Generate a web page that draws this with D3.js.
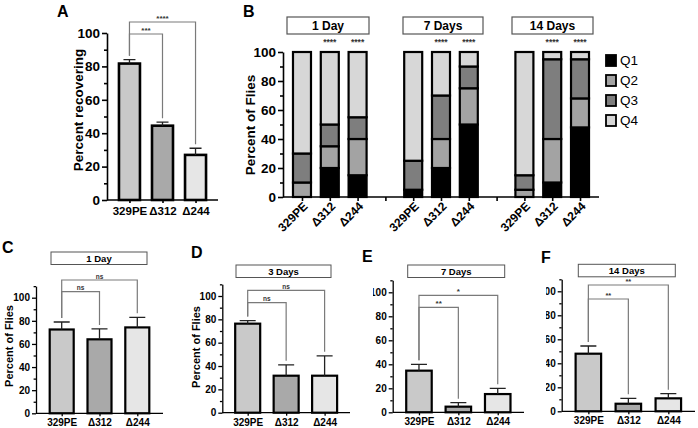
<!DOCTYPE html>
<html><head><meta charset="utf-8">
<script src="https://cdn.jsdelivr.net/npm/d3@7"></script>
<style>
body{margin:0;background:#fff;}
svg{display:block;font-family:"Liberation Sans",Arial,Helvetica,sans-serif;}
</style></head><body>
<svg id="chart" width="698" height="428"></svg>
<script>
// ---------------- data ----------------
const strains = ["329PE", "Δ312", "Δ244"];
const yTicks = [0, 20, 40, 60, 80, 100];

// Panel A
const recoveringMean = [81.7, 44.5, 27.0];
const recoveringSem = [2.3, 2.1, 4.0];
const recoveringSig = [["329PE", "Δ312", "***"], ["329PE", "Δ244", "****"]];

// Panel B (stacked quartiles)
const days = ["1 Day", "7 Days", "14 Days"];
const quartiles = ["Q1", "Q2", "Q3", "Q4"];
const q1 = [0, 20, 15, 5, 20, 50, 0, 10, 48];
const q2 = [10, 15, 25, 0, 20, 25, 5, 30, 20];
const q3 = [20, 15, 15, 20, 30, 15, 10, 55, 27];
const q4 = [70, 50, 45, 75, 30, 10, 85, 5, 5];
const stackSig = ["", "****", "****", "", "****", "****", "", "****", "****"];

// Panels C-F
const day1Mean = [72.5, 64.0, 74.3], day1Sem = [6.5, 9.0, 8.7];
const day1Sig = [["329PE", "Δ312", "ns"], ["329PE", "Δ244", "ns"]];
const day3Mean = [76.3, 31.7, 31.7], day3Sem = [2.6, 9.3, 17.0];
const day3Sig = [["329PE", "Δ312", "ns"], ["329PE", "Δ244", "ns"]];
const day7Mean = [34.7, 4.7, 15.2], day7Sem = [5.3, 3.3, 4.8];
const day7Sig = [["329PE", "Δ312", "**"], ["329PE", "Δ244", "*"]];
const day14Mean = [48.0, 6.3, 10.8], day14Sem = [6.4, 4.5, 3.9];
const day14Sig = [["329PE", "Δ312", "**"], ["329PE", "Δ244", "**"]];

// ---------------- styles ----------------
const strainFill = { "329PE": "#c9c9c9", "Δ312": "#a9a9a9", "Δ244": "#e6e6e6" };
const quartFill = { Q1: "#000000", Q2: "#a3a3a3", Q3: "#7e7e7e", Q4: "#d7d7d7" };
const bracketColor = "#7a7a7a";

const svg = d3.select("#chart");
svg.append("defs").html(
  '<clipPath id="clipE"><rect x="373" y="0" width="400" height="428"/></clipPath>' +
  '<clipPath id="clipF"><rect x="546" y="0" width="400" height="428"/></clipPath>');

function styleAxis(g, w) {
  g.selectAll("path.domain").attr("stroke", "#000").attr("stroke-width", w);
  g.selectAll(".tick line").attr("stroke", "#000").attr("stroke-width", w);
}

function barPanel(o) {
  const g = svg.append("g");
  const yTopPx = o.yBase - (o.yBase - o.y100) * o.yMax / 100;
  const y = d3.scaleLinear().domain([0, o.yMax]).range([o.yBase, yTopPx]);
  const x = d3.scalePoint().domain(strains).range([o.x0, o.x1]).padding(o.pad);
  const data = strains.map((s, i) => ({ s, m: o.mean[i], e: o.sem[i] }));

  // y axis (optionally clipped wrapper, as in the composed figure)
  const yWrap = g.append("g");
  if (o.clip) yWrap.attr("clip-path", `url(#${o.clip})`);
  const minor = d3.range(10, o.yMax + 0.1, 20).filter(v => v <= o.yMax);
  const ya = yWrap.append("g").attr("transform", `translate(${o.x0},0)`)
    .call(d3.axisLeft(y).tickValues(yTicks).tickSize(o.tick).tickSizeOuter(0).tickPadding(2));
  ya.selectAll("text").attr("font-size", o.tickFont).attr("font-weight", "bold").attr("fill", "#000");
  styleAxis(ya, o.axisW);
  const ym = yWrap.append("g").attr("transform", `translate(${o.x0},0)`)
    .call(d3.axisLeft(y).tickValues(minor).tickSize(o.tick * 0.6).tickFormat(""));
  ym.select("path.domain").remove();
  styleAxis(ym, o.axisW);

  // bars
  g.selectAll("rect.bar").data(data).join("rect").attr("class", "bar")
    .attr("x", d => x(d.s) - o.barW / 2).attr("width", o.barW)
    .attr("y", d => y(d.m)).attr("height", d => y(0) - y(d.m))
    .attr("fill", d => strainFill[d.s]).attr("stroke", "#000").attr("stroke-width", o.barStroke);
  // error bars
  g.selectAll("path.err").data(data).join("path").attr("class", "err")
    .attr("d", d => `M${x(d.s)},${y(d.m)}V${y(d.m + d.e)}M${x(d.s) - o.capW / 2},${y(d.m + d.e)}H${x(d.s) + o.capW / 2}`)
    .attr("stroke", "#222").attr("stroke-width", 1.3).attr("fill", "none");

  // x axis
  const xa = g.append("g").attr("transform", `translate(0,${o.yBase})`)
    .call(d3.axisBottom(x).tickSize(3).tickSizeOuter(0).tickPadding(o.xPad));
  xa.select("path.domain").attr("d", `M${o.x0},0H${o.x1}`);
  xa.selectAll("text").attr("font-size", o.labelFont).attr("font-weight", "bold").attr("fill", "#000");
  styleAxis(xa, o.axisW);

  // brackets
  o.sig.forEach(([a, b, lab], k) => {
    const L = o.sigY[k];
    const ia = strains.indexOf(a), ib = strains.indexOf(b);
    const ba = y(o.mean[ia] + o.sem[ia]) - 4, bb = y(o.mean[ib] + o.sem[ib]) - 4;
    g.append("path").attr("d", `M${x(a)},${ba}V${L}H${x(b)}V${bb}`)
      .attr("fill", "none").attr("stroke", bracketColor).attr("stroke-width", 1.2);
    g.append("text").attr("x", (x(a) + x(b)) / 2).attr("y", L - 1.5)
      .attr("text-anchor", "middle").attr("font-size", o.sigFont).attr("font-weight", "bold")
      .attr("fill", "#333").text(lab);
  });

  // y title
  if (o.title) {
    g.append("text").attr("transform", `translate(${o.titleX},${o.titleY}) rotate(-90)`)
      .attr("text-anchor", "middle").attr("font-size", o.titleFont).attr("font-weight", "bold")
      .text(o.title);
  }

  // strip
  if (o.strip) {
    g.append("rect").attr("x", o.strip[0]).attr("y", o.strip[1]).attr("width", o.strip[2]).attr("height", o.strip[3])
      .attr("fill", "#fff").attr("stroke", "#555").attr("stroke-width", 1);
    g.append("text").attr("x", o.strip[0] + o.strip[2] / 2).attr("y", o.strip[1] + o.strip[3] / 2)
      .attr("dy", "0.36em").attr("text-anchor", "middle").attr("font-size", o.stripFont)
      .attr("font-weight", "bold").text(o.stripText);
  }
  // panel letter
  svg.append("text").attr("x", o.letter[0]).attr("y", o.letter[1]).attr("font-size", 16)
    .attr("font-weight", "bold").text(o.letter[2]);
}

// Panel A
barPanel({
  x0: 107, x1: 218, pad: 0.68, yBase: 200, y100: 33, yMax: 100,
  mean: recoveringMean, sem: recoveringSem, sig: recoveringSig, sigY: [34, 22],
  barW: 21, barStroke: 2.6, capW: 12, tick: 5, axisW: 1.6,
  tickFont: 13.5, labelFont: 11.5, xPad: 4, sigFont: 8,
  title: "Percent recovering", titleX: 83, titleY: 110, titleFont: 13.5,
  letter: [57, 17, "A"]
});

// Panel C
barPanel({
  x0: 36, x1: 163, pad: 0.68, yBase: 413.3, y100: 297.7, yMax: 110,
  mean: day1Mean, sem: day1Sem, sig: day1Sig, sigY: [291.7, 280],
  barW: 24, barStroke: 2.2, capW: 16, tick: 4, axisW: 1.3,
  tickFont: 10, labelFont: 10, xPad: 3, sigFont: 6.5,
  title: "Percent of Flies", titleX: 13, titleY: 346, titleFont: 11,
  strip: [51, 252, 96, 12.5], stripText: "1 Day", stripFont: 9.5,
  letter: [2, 253, "C"]
});
// Panel D
barPanel({
  x0: 222.3, x1: 350, pad: 0.66, yBase: 412.7, y100: 296, yMax: 110,
  mean: day3Mean, sem: day3Sem, sig: day3Sig, sigY: [302.7, 290.3],
  barW: 25, barStroke: 2.2, capW: 16, tick: 4, axisW: 1.3,
  tickFont: 10, labelFont: 10, xPad: 3, sigFont: 6.5,
  title: "Percent of Flies", titleX: 200, titleY: 347, titleFont: 11,
  strip: [236, 265, 95, 12.5], stripText: "3 Days", stripFont: 9.5,
  letter: [191, 258, "D"]
});
// Panel E
barPanel({
  x0: 392.7, x1: 524, pad: 0.667, yBase: 412.3, y100: 292.3, yMax: 110,
  mean: day7Mean, sem: day7Sem, sig: day7Sig, sigY: [307.3, 295.3],
  barW: 25.5, barStroke: 2.2, capW: 16, tick: 4, axisW: 1.3,
  tickFont: 10, labelFont: 10, xPad: 3, sigFont: 8,
  title: "", clip: "clipE",
  strip: [407.7, 265, 97, 12.5], stripText: "7 Days", stripFont: 9.5,
  letter: [362, 262, "E"]
});
// Panel F
barPanel({
  x0: 561.7, x1: 695, pad: 0.667, yBase: 411.3, y100: 291.3, yMax: 110,
  mean: day14Mean, sem: day14Sem, sig: day14Sig, sigY: [299, 285],
  barW: 25.5, barStroke: 2.2, capW: 16, tick: 4, axisW: 1.3,
  tickFont: 10, labelFont: 10, xPad: 3, sigFont: 7.5,
  title: "", clip: "clipF",
  strip: [578.3, 264.3, 97, 12.5], stripText: "14 Days", stripFont: 9.5,
  letter: [541, 263, "F"]
});

// ---------------- Panel B ----------------
(function () {
  const g = svg.append("g");
  const slots = [];
  const rows = [];
  days.forEach((d, di) => {
    strains.forEach((s, si) => {
      const k = di * 3 + si;
      const key = d + "|" + s;
      slots.push(key);
      rows.push({ key, strain: s, sig: stackSig[k], Q1: q1[k], Q2: q2[k], Q3: q3[k], Q4: q4[k] });
    });
    if (di < days.length - 1) slots.push("gap" + di);
  });
  const x = d3.scalePoint().domain(slots).range([283, 599]).padding(0.683);
  const y = d3.scaleLinear().domain([0, 100]).range([197, 52]);
  const barW = 18;

  const ya = g.append("g").attr("transform", "translate(283,0)")
    .call(d3.axisLeft(y).tickValues(yTicks).tickSize(5).tickSizeOuter(0).tickPadding(2));
  ya.selectAll("text").attr("font-size", 13.5).attr("font-weight", "bold");
  styleAxis(ya, 1.6);
  const ym = g.append("g").attr("transform", "translate(283,0)")
    .call(d3.axisLeft(y).tickValues([10, 30, 50, 70, 90]).tickSize(3).tickFormat(""));
  ym.select("path.domain").remove();
  styleAxis(ym, 1.6);

  const xa = g.append("g").attr("transform", "translate(0,197)")
    .call(d3.axisBottom(x).tickSize(4).tickSizeOuter(0)
      .tickFormat(k => k.startsWith("gap") ? "" : k.split("|")[1]));
  xa.select("path.domain").attr("d", "M283,0H599");
  xa.selectAll("text").attr("font-size", 12).attr("font-weight", "bold")
    .attr("text-anchor", "end").attr("dy", null).attr("y", null)
    .attr("transform", "translate(6,10) rotate(-45)");
  styleAxis(xa, 1.6);

  const series = d3.stack().keys(quartiles)(rows);
  g.selectAll("g.ser").data(series).join("g").attr("class", "ser")
    .attr("fill", d => quartFill[d.key])
    .selectAll("rect").data(d => d.filter(p => p[1] > p[0])).join("rect")
    .attr("x", d => x(d.data.key) - barW / 2).attr("width", barW)
    .attr("y", d => y(d[1])).attr("height", d => y(d[0]) - y(d[1]))
    .attr("stroke", "#000").attr("stroke-width", 2.2);

  g.selectAll("text.sig").data(rows.filter(r => r.sig)).join("text").attr("class", "sig")
    .attr("x", d => x(d.key)).attr("y", 45).attr("text-anchor", "middle")
    .attr("font-size", 8.5).attr("font-weight", "bold").attr("fill", "#333").text(d => d.sig);

  // strips
  const strips = [[287, 17, 82, 17], [403, 17, 80, 17], [512, 17, 81, 17]];
  days.forEach((d, i) => {
    const s = strips[i];
    g.append("rect").attr("x", s[0]).attr("y", s[1]).attr("width", s[2]).attr("height", s[3])
      .attr("fill", "#fff").attr("stroke", "#555").attr("stroke-width", 1.2);
    g.append("text").attr("x", s[0] + s[2] / 2).attr("y", s[1] + s[3] / 2).attr("dy", "0.36em")
      .attr("text-anchor", "middle").attr("font-size", 12).attr("font-weight", "bold").text(d);
  });

  g.append("text").attr("transform", "translate(255,125) rotate(-90)").attr("text-anchor", "middle")
    .attr("font-size", 13.5).attr("font-weight", "bold").text("Percent of Flies");

  // legend
  const leg = g.selectAll("g.leg").data(quartiles).join("g").attr("class", "leg")
    .attr("transform", (d, i) => `translate(606,${55 + i * 20})`);
  leg.append("rect").attr("width", 10).attr("height", 11).attr("fill", d => quartFill[d])
    .attr("stroke", "#000").attr("stroke-width", 1.8);
  leg.append("text").attr("x", 14).attr("y", 5.5).attr("dy", "0.36em").attr("font-size", 13.5).text(d => d);

  svg.append("text").attr("x", 243).attr("y", 17).attr("font-size", 16).attr("font-weight", "bold").text("B");
})();
</script>
</body></html>
